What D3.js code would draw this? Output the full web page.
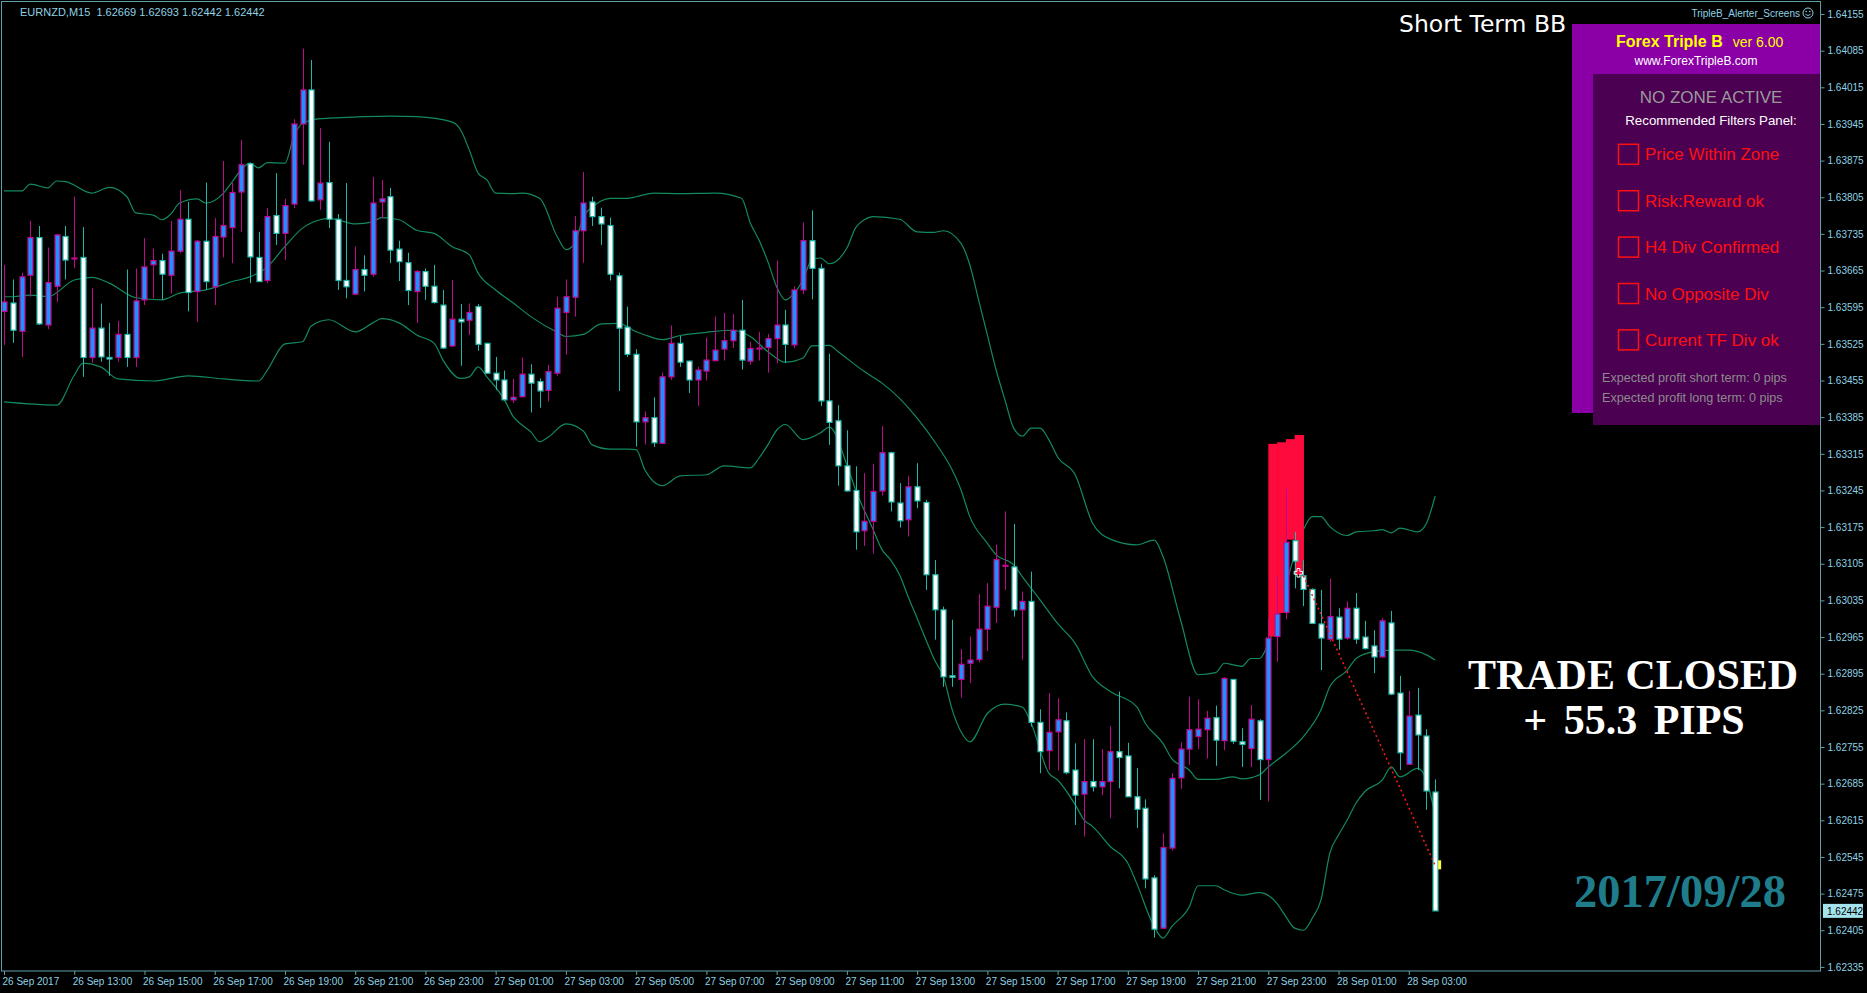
<!DOCTYPE html>
<html><head><meta charset="utf-8">
<script src="https://cdn.jsdelivr.net/npm/d3@7"></script>
<style>
html,body{margin:0;padding:0;background:#000;overflow:hidden}
svg{display:block}
</style></head>
<body>
<svg id="chart" width="1867" height="993"></svg>
<script>
// ---------- DATA (EURNZD M15, one value per bar) ----------
const symbolLabel = "EURNZD,M15";
const opens = [1.63587,1.63603,1.63549,1.63656,1.63728,1.63561,1.63635,1.63730,1.63687,1.63690,
1.63499,1.63555,1.63499,1.63499,1.63543,1.63499,1.63609,1.63676,1.63684,1.63656,
1.63702,1.63763,1.63625,1.63721,1.63634,1.63729,1.63747,1.63815,1.63869,1.63690,
1.63646,1.63770,1.63736,1.63792,1.63945,1.64010,1.63800,1.63833,1.63763,1.63646,
1.63620,1.63667,1.63658,1.63796,1.63806,1.63706,1.63680,1.63625,1.63663,1.63635,
1.63599,1.63521,1.63572,1.63570,1.63596,1.63526,1.63469,1.63456,1.63418,1.63424,
1.63467,1.63453,1.63436,1.63469,1.63585,1.63614,1.63741,1.63796,1.63768,1.63751,
1.63655,1.63557,1.63505,1.63376,1.63384,1.63335,1.63462,1.63526,1.63492,1.63456,
1.63473,1.63493,1.63515,1.63531,1.63551,1.63492,1.63516,1.63518,1.63535,1.63561,
1.63523,1.63628,1.63722,1.63669,1.63416,1.63378,1.63292,1.63245,1.63168,1.63186,
1.63244,1.63317,1.63221,1.63189,1.63252,1.63222,1.63084,1.63017,1.62891,1.62884,
1.62915,1.62922,1.62980,1.63022,1.63100,1.63099,1.63017,1.63033,1.62802,1.62748,
1.62784,1.62805,1.62711,1.62665,1.62689,1.62679,1.62689,1.62746,1.62738,1.62660,
1.62638,1.62505,1.62409,1.62562,1.62696,1.62751,1.62775,1.62788,1.62811,1.62767,
1.62884,1.62765,1.62752,1.62805,1.62731,1.62966,1.63012,1.63149,1.63082,1.63056,
1.62990,1.62961,1.63003,1.62963,1.63020,1.62965,1.62948,1.62927,1.62992,1.62858,
1.62722,1.62816,1.62776,1.62669];
const highs = [1.63676,1.63648,1.63661,1.63760,1.63750,1.63709,1.63734,1.63750,1.63806,1.63748,
1.63631,1.63602,1.63565,1.63569,1.63667,1.63669,1.63727,1.63707,1.63697,1.63760,
1.63819,1.63796,1.63723,1.63833,1.63765,1.63874,1.63833,1.63914,1.63871,1.63739,
1.63784,1.63851,1.63802,1.63954,1.64089,1.64067,1.63937,1.63911,1.63773,1.63832,
1.63711,1.63694,1.63844,1.63838,1.63823,1.63722,1.63699,1.63666,1.63669,1.63676,
1.63628,1.63647,1.63601,1.63602,1.63601,1.63527,1.63500,1.63474,1.63458,1.63499,
1.63486,1.63459,1.63485,1.63615,1.63648,1.63769,1.63853,1.63806,1.63785,1.63766,
1.63661,1.63596,1.63515,1.63396,1.63423,1.63470,1.63560,1.63540,1.63493,1.63481,
1.63537,1.63577,1.63584,1.63582,1.63609,1.63529,1.63548,1.63544,1.63684,1.63590,
1.63635,1.63757,1.63780,1.63678,1.63506,1.63408,1.63360,1.63291,1.63278,1.63296,
1.63368,1.63319,1.63259,1.63273,1.63297,1.63227,1.63112,1.63023,1.62998,1.62942,
1.62966,1.63047,1.63068,1.63142,1.63205,1.63181,1.63052,1.63090,1.62827,1.62858,
1.62848,1.62821,1.62762,1.62770,1.62770,1.62751,1.62795,1.62861,1.62763,1.62715,
1.62655,1.62510,1.62590,1.62705,1.62764,1.62851,1.62846,1.62824,1.62834,1.62888,
1.62885,1.62791,1.62835,1.62808,1.63000,1.63080,1.63249,1.63166,1.63112,1.63058,
1.63055,1.63076,1.63020,1.63033,1.63049,1.62996,1.62978,1.63001,1.63015,1.62891,
1.62862,1.62868,1.62789,1.62693];
const lows = [1.63523,1.63527,1.63500,1.63615,1.63561,1.63553,1.63605,1.63648,1.63670,1.63462,
1.63489,1.63491,1.63464,1.63491,1.63481,1.63481,1.63599,1.63612,1.63609,1.63621,
1.63698,1.63587,1.63567,1.63628,1.63599,1.63690,1.63679,1.63739,1.63641,1.63643,
1.63641,1.63714,1.63685,1.63784,1.63867,1.63797,1.63781,1.63746,1.63628,1.63612,
1.63618,1.63625,1.63653,1.63765,1.63679,1.63645,1.63599,1.63565,1.63609,1.63602,
1.63515,1.63519,1.63483,1.63542,1.63512,1.63468,1.63437,1.63417,1.63412,1.63423,
1.63394,1.63403,1.63415,1.63464,1.63504,1.63577,1.63680,1.63750,1.63714,1.63646,
1.63435,1.63500,1.63329,1.63333,1.63328,1.63334,1.63456,1.63481,1.63431,1.63406,
1.63455,1.63491,1.63493,1.63517,1.63476,1.63485,1.63493,1.63470,1.63488,1.63488,
1.63517,1.63620,1.63610,1.63406,1.63332,1.63254,1.63243,1.63132,1.63139,1.63124,
1.63235,1.63205,1.63174,1.63157,1.63211,1.63055,1.62960,1.62870,1.62870,1.62849,
1.62877,1.62917,1.62938,1.62992,1.63055,1.63004,1.62922,1.62794,1.62705,1.62711,
1.62710,1.62703,1.62606,1.62584,1.62670,1.62663,1.62619,1.62676,1.62660,1.62600,
1.62485,1.62391,1.62408,1.62557,1.62675,1.62721,1.62751,1.62733,1.62719,1.62749,
1.62761,1.62717,1.62717,1.62654,1.62651,1.62918,1.62999,1.63058,1.63024,1.62990,
1.62902,1.62956,1.62941,1.62960,1.62952,1.62941,1.62896,1.62926,1.62854,1.62711,
1.62721,1.62711,1.62635,1.62442];
const closes = [1.63605,1.63551,1.63653,1.63728,1.63563,1.63642,1.63733,1.63685,1.63689,1.63499,
1.63555,1.63500,1.63496,1.63543,1.63499,1.63607,1.63672,1.63684,1.63658,1.63702,
1.63763,1.63623,1.63721,1.63644,1.63730,1.63751,1.63814,1.63867,1.63691,1.63644,
1.63768,1.63736,1.63789,1.63945,1.64010,1.63798,1.63832,1.63763,1.63646,1.63634,
1.63667,1.63656,1.63794,1.63802,1.63704,1.63682,1.63627,1.63663,1.63635,1.63604,
1.63517,1.63572,1.63567,1.63585,1.63524,1.63469,1.63456,1.63418,1.63423,1.63467,
1.63450,1.63435,1.63472,1.63593,1.63615,1.63741,1.63794,1.63768,1.63754,1.63658,
1.63555,1.63505,1.63376,1.63384,1.63336,1.63462,1.63526,1.63490,1.63456,1.63475,
1.63494,1.63513,1.63531,1.63551,1.63494,1.63516,1.63517,1.63535,1.63561,1.63524,
1.63628,1.63722,1.63669,1.63416,1.63375,1.63292,1.63244,1.63166,1.63186,1.63243,
1.63317,1.63223,1.63187,1.63252,1.63225,1.63084,1.63017,1.62889,1.62888,1.62913,
1.62921,1.62980,1.63024,1.63113,1.63102,1.63017,1.63033,1.62802,1.62746,1.62783,
1.62807,1.62706,1.62663,1.62689,1.62679,1.62689,1.62746,1.62735,1.62660,1.62636,
1.62503,1.62407,1.62563,1.62695,1.62751,1.62788,1.62789,1.62810,1.62768,1.62886,
1.62766,1.62760,1.62808,1.62731,1.62963,1.63009,1.63146,1.63110,1.63056,1.62991,
1.62963,1.63004,1.62961,1.63020,1.62961,1.62943,1.62927,1.62996,1.62856,1.62744,
1.62814,1.62778,1.62671,1.62442];

// Bollinger band readings: [bar index, price]
const upperBand = [[0,1.63817],[2,1.63817],[3,1.63830],[5,1.63823],[6,1.63836],[7,1.63835],[10,1.63813],[12,1.63824],[14,1.63806],[15,1.63775],[17,1.63771],[18,1.63762],[19,1.63773],[20,1.63794],[22,1.63802],[23,1.63794],[25,1.63813],[26,1.63835],[27,1.63857],[28,1.63870],[29,1.63861],[30,1.63871],[32,1.63870],[33,1.63921],[34,1.63946],[36,1.63955],[37,1.63956],[41,1.63959],[44,1.63960],[47,1.63959],[51,1.63949],[52,1.63934],[53,1.63895],[54,1.63851],[55,1.63838],[56,1.63813],[58,1.63812],[59,1.63813],[61,1.63803],[63,1.63730],[64,1.63705],[65,1.63717],[66,1.63768],[67,1.63786],[68,1.63798],[69,1.63803],[71,1.63803],[72,1.63806],[74,1.63813],[77,1.63812],[81,1.63813],[84,1.63803],[85,1.63756],[86,1.63723],[87,1.63682],[88,1.63634],[89,1.63609],[90,1.63622],[91,1.63647],[92,1.63685],[93,1.63689],[94,1.63678],[96,1.63708],[97,1.63747],[98,1.63762],[99,1.63768],[102,1.63763],[104,1.63739],[106,1.63738],[107,1.63741],[109,1.63717],[110,1.63676],[111,1.63609],[112,1.63542],[113,1.63475],[114,1.63418],[115,1.63364],[116,1.63349],[117,1.63364],[118,1.63364],[119,1.63342],[120,1.63309],[122,1.63275],[124,1.63182],[126,1.63152],[129,1.63141],[131,1.63150],[132,1.63119],[134,1.62998],[136,1.62893],[138,1.62897],[139,1.62915],[140,1.62912],[141,1.62909],[142,1.62924],[143,1.62924],[144,1.62953],[145,1.62998],[146,1.63064],[147,1.63122],[148,1.63170],[149,1.63195],[150,1.63195],[151,1.63176],[153,1.63159],[154,1.63166],[156,1.63168],[157,1.63170],[158,1.63164],[159,1.63173],[161,1.63166],[162,1.63182],[163,1.63234]];
const middleBand = [[0,1.63615],[1,1.63615],[3,1.63618],[5,1.63615],[8,1.63647],[10,1.63652],[12,1.63641],[15,1.63613],[18,1.63609],[20,1.63622],[23,1.63628],[26,1.63644],[28,1.63653],[30,1.63672],[32,1.63711],[34,1.63746],[36,1.63762],[37,1.63765],[38,1.63762],[40,1.63754],[42,1.63758],[43,1.63766],[45,1.63762],[47,1.63742],[49,1.63736],[51,1.63711],[53,1.63695],[54,1.63660],[56,1.63628],[58,1.63603],[60,1.63577],[63,1.63547],[64,1.63539],[66,1.63543],[68,1.63563],[70,1.63564],[72,1.63548],[73,1.63542],[75,1.63533],[77,1.63541],[80,1.63547],[83,1.63551],[85,1.63539],[87,1.63510],[89,1.63490],[91,1.63498],[92,1.63521],[94,1.63522],[95,1.63510],[98,1.63472],[100,1.63450],[102,1.63421],[104,1.63383],[106,1.63338],[108,1.63284],[109,1.63246],[110,1.63195],[112,1.63144],[113,1.63122],[115,1.63103],[116,1.63080],[118,1.63036],[120,1.62991],[122,1.62953],[124,1.62889],[126,1.62861],[129,1.62832],[130,1.62800],[132,1.62762],[133,1.62733],[135,1.62711],[136,1.62693],[138,1.62693],[140,1.62698],[141,1.62694],[143,1.62702],[144,1.62717],[146,1.62743],[148,1.62775],[150,1.62826],[151,1.62870],[153,1.62902],[154,1.62924],[156,1.62937],[158,1.62940],[160,1.62940],[162,1.62931],[163,1.62921]];
const lowerBand = [[0,1.63414],[6,1.63408],[8,1.63465],[9,1.63488],[11,1.63481],[13,1.63458],[17,1.63454],[21,1.63464],[25,1.63458],[29,1.63454],[30,1.63475],[32,1.63525],[34,1.63529],[35,1.63559],[37,1.63571],[40,1.63548],[42,1.63565],[43,1.63573],[45,1.63565],[47,1.63542],[49,1.63526],[50,1.63494],[52,1.63459],[53,1.63462],[54,1.63481],[55,1.63462],[57,1.63418],[58,1.63386],[59,1.63370],[60,1.63357],[61,1.63338],[62,1.63347],[64,1.63372],[66,1.63358],[67,1.63332],[69,1.63324],[71,1.63324],[72,1.63323],[73,1.63284],[75,1.63254],[77,1.63273],[80,1.63275],[82,1.63292],[85,1.63288],[86,1.63307],[87,1.63332],[88,1.63360],[89,1.63371],[91,1.63342],[93,1.63355],[94,1.63366],[96,1.63294],[97,1.63246],[99,1.63170],[100,1.63132],[101,1.63112],[102,1.63084],[103,1.63041],[104,1.63001],[105,1.62960],[106,1.62921],[107,1.62889],[108,1.62826],[109,1.62784],[110,1.62765],[112,1.62819],[114,1.62837],[116,1.62831],[117,1.62800],[119,1.62705],[120,1.62692],[122,1.62645],[123,1.62616],[124,1.62603],[126,1.62565],[128,1.62533],[129,1.62495],[131,1.62412],[132,1.62390],[133,1.62412],[135,1.62450],[136,1.62490],[138,1.62490],[139,1.62482],[141,1.62472],[143,1.62477],[145,1.62456],[146,1.62431],[147,1.62409],[148,1.62405],[149,1.62428],[150,1.62463],[151,1.62552],[152,1.62587],[153,1.62616],[154,1.62648],[155,1.62670],[157,1.62692],[158,1.62717],[159,1.62698],[161,1.62714],[162,1.62692],[163,1.62625]];

// Supply zone columns (bar index, top, bottom)
const zoneBars = [144,145,146,147];
const zoneTops = [1.63334,1.63337,1.63343,1.63351];
const zoneBottoms = [1.62966,1.63011,1.63151,1.63084];

// Trade line
const tradeBars = [148,163];
const tradePrices = [1.63082,1.62529];

// Axis ticks
const yTicks = [1.64155,1.64085,1.64015,1.63945,1.63875,1.63805,1.63735,1.63665,1.63595,1.63525,1.63455,1.63385,1.63315,1.63245,1.63175,1.63105,1.63035,1.62965,1.62895,1.62825,1.62755,1.62685,1.62615,1.62545,1.62475,1.62405,1.62335];
const xTickBars = [0,8,16,24,32,40,48,56,64,72,80,88,96,104,112,120,128,136,144,152,160];
const xTickLabels = ["26 Sep 2017","26 Sep 13:00","26 Sep 15:00","26 Sep 17:00","26 Sep 19:00","26 Sep 21:00","26 Sep 23:00","27 Sep 01:00","27 Sep 03:00","27 Sep 05:00","27 Sep 07:00","27 Sep 09:00","27 Sep 11:00","27 Sep 13:00","27 Sep 15:00","27 Sep 17:00","27 Sep 19:00","27 Sep 21:00","27 Sep 23:00","28 Sep 01:00","28 Sep 03:00"];

// Panel texts
const filterItems = ["Price Within Zone","Risk:Reward ok","H4 Div Confirmed","No Opposite Div","Current TF Div ok"];
const profitTexts = ["Expected profit short term: 0 pips","Expected profit long term: 0 pips"];

// ---------- DRAWING ----------
const svg = d3.select("#chart");
const AX = "#5e9fa9", TXT = "#8fd2e4";
const BULL_FILL = "#1e90ff", BULL_LINE = "#c0088f";
const BEAR_FILL = "#ffffff", BEAR_LINE = "#1fb8aa";
const BAND = "#138a5c";
const n = opens.length;

const x = d3.scaleLinear().domain([0, n - 1]).range([4, 4 + (n - 1) * 8.78]);
const y = d3.scaleLinear().domain([1.62335, 1.64155]).range([966.9, 14]);

svg.append("rect").attr("width",1867).attr("height",993).attr("fill","#000");

// header
svg.append("text").attr("x",20).attr("y",16).attr("fill",TXT)
  .attr("font-family","Liberation Sans, Arial, sans-serif").attr("font-size",11)
  .text(`${symbolLabel}  ${opens[n-1].toFixed(5)} ${highs[n-1].toFixed(5)} ${lows[n-1].toFixed(5)} ${closes[n-1].toFixed(5)}`)
  .attr("xml:space","preserve").style("white-space","pre");

const plot = svg.append("g");
plot.append("clipPath").attr("id","clip").append("rect").attr("x",1).attr("y",1).attr("width",1819).attr("height",970);
const g = plot.append("g").attr("clip-path","url(#clip)");

// bands
const line = d3.line().x(d => x(d[0])).y(d => y(d[1])).curve(d3.curveMonotoneX);
[upperBand, middleBand, lowerBand].forEach(b => {
  g.append("path").attr("d", line(b)).attr("fill","none").attr("stroke",BAND).attr("stroke-width",1.2);
});

// zone
zoneBars.forEach((b,i) => {
  g.append("rect").attr("x", x(b)).attr("width", x(b+1)-x(b)+0.5)
   .attr("y", y(zoneTops[i])).attr("height", y(zoneBottoms[i]) - y(zoneTops[i]))
   .attr("fill","#ff0a3c");
});

// candles
const idx = d3.range(n);
const bw = 5;
idx.forEach(i => {
  const bull = closes[i] >= opens[i];
  const cx = Math.round(x(i)) + 0.5;
  const lc = bull ? BULL_LINE : BEAR_LINE;
  g.append("line").attr("x1",cx).attr("x2",cx).attr("y1",y(highs[i])).attr("y2",y(lows[i]))
    .attr("stroke",lc).attr("stroke-width",1);
  const top = y(Math.max(opens[i],closes[i])), bot = y(Math.min(opens[i],closes[i]));
  g.append("rect").attr("x",cx - bw/2).attr("y",top).attr("width",bw).attr("height",Math.max(bot-top,1))
    .attr("fill", bull ? BULL_FILL : BEAR_FILL).attr("stroke",lc).attr("stroke-width",1.2);
});

// trade line
g.append("line").attr("x1",x(tradeBars[0])).attr("y1",y(tradePrices[0]))
  .attr("x2",x(tradeBars[1])).attr("y2",y(tradePrices[1]))
  .attr("stroke","#ff1a1a").attr("stroke-width",1.5).attr("stroke-dasharray","2,3");
g.append("path").attr("d", d3.symbol(d3.symbolCross, 40)())
  .attr("transform",`translate(${x(tradeBars[0])-5},${y(tradePrices[0])-3})`)
  .attr("fill","none").attr("stroke","#fff").attr("stroke-width",1);
g.append("rect").attr("x",x(tradeBars[1])+3).attr("y",y(tradePrices[1])-5).attr("width",3).attr("height",9).attr("fill","#ffff40");

// frame
svg.append("rect").attr("x",1.5).attr("y",1.5).attr("width",1819).attr("height",969.5)
  .attr("fill","none").attr("stroke",AX).attr("stroke-width",1);

// y axis
const yAxis = d3.axisRight(y).tickValues(yTicks).tickSize(4).tickFormat(d3.format(".5f"));
const ya = svg.append("g").attr("transform","translate(1820.5,0)").call(yAxis);
ya.select(".domain").remove();
ya.selectAll("line").attr("stroke",AX);
ya.selectAll("text").attr("fill",TXT).attr("font-family","Liberation Sans, Arial, sans-serif").attr("font-size",10).attr("x",7);

// current price label
const cy = y(closes[n-1]);
svg.append("rect").attr("x",1823).attr("y",cy-7).attr("width",40).attr("height",14).attr("fill","#a4e3ee");
svg.append("text").attr("x",1827).attr("y",cy+4).attr("fill","#000")
  .attr("font-family","Liberation Sans, Arial, sans-serif").attr("font-size",10).text(closes[n-1].toFixed(5));

// x axis
const xAxis = d3.axisBottom(x).tickValues(xTickBars).tickSize(4).tickFormat((d,i) => xTickLabels[i]);
const xa = svg.append("g").attr("transform","translate(0,971)").call(xAxis);
xa.select(".domain").remove();
xa.selectAll("line").attr("stroke",AX);
xa.selectAll("text").attr("fill",TXT).attr("font-family","Liberation Sans, Arial, sans-serif").attr("font-size",10)
  .attr("text-anchor","start").attr("dx",-2).attr("y",7);

// "Short Term BB"
svg.append("text").attr("x",1399).attr("y",32).attr("fill","#fff")
  .attr("font-family","DejaVu Sans, sans-serif").attr("font-size",23.5).text("Short Term BB");

// alerter label
svg.append("text").attr("x",1800).attr("y",17).attr("fill",TXT).attr("text-anchor","end")
  .attr("font-family","Liberation Sans, Arial, sans-serif").attr("font-size",10).text("TripleB_Alerter_Screens");
const sm = svg.append("g").attr("transform","translate(1808,13)");
sm.append("circle").attr("r",5).attr("fill","none").attr("stroke",TXT).attr("stroke-width",1);
sm.append("circle").attr("cx",-1.8).attr("cy",-1.5).attr("r",0.8).attr("fill",TXT);
sm.append("circle").attr("cx",1.8).attr("cy",-1.5).attr("r",0.8).attr("fill",TXT);
sm.append("path").attr("d","M-2.5,1.2 Q0,4 2.5,1.2").attr("fill","none").attr("stroke",TXT).attr("stroke-width",0.9);

// panel
svg.append("rect").attr("x",1572).attr("y",24).attr("width",248).attr("height",389).attr("fill","#8a00a6");
svg.append("rect").attr("x",1593).attr("y",74).attr("width",227).attr("height",351).attr("fill","#4b0052");
const pf = "Liberation Sans, Arial, sans-serif";
const t1 = svg.append("text").attr("x",1616).attr("y",47).attr("font-family",pf).attr("fill","#ffff00");
t1.append("tspan").attr("font-size",16).attr("font-weight","bold").text("Forex Triple B");
t1.append("tspan").attr("font-size",14).attr("dx",10).text("ver 6.00");
svg.append("text").attr("x",1696).attr("y",65).attr("text-anchor","middle").attr("font-family",pf)
  .attr("font-size",12).attr("fill","#fff").text("www.ForexTripleB.com");
svg.append("text").attr("x",1711).attr("y",103).attr("text-anchor","middle").attr("font-family",pf)
  .attr("font-size",17).attr("fill","#9a9a9a").text("NO ZONE ACTIVE");
svg.append("text").attr("x",1711).attr("y",125).attr("text-anchor","middle").attr("font-family",pf)
  .attr("font-size",13.3).attr("fill","#fff").text("Recommended Filters Panel:");
filterItems.forEach((t,i) => {
  const cyy = 154.3 + i * 46.4;
  svg.append("rect").attr("x",1618.5).attr("y",cyy-10).attr("width",20).attr("height",20)
    .attr("fill","none").attr("stroke","#ff1010").attr("stroke-width",1.5);
  svg.append("text").attr("x",1645).attr("y",cyy+6).attr("font-family",pf).attr("font-size",17)
    .attr("fill","#ff1010").text(t);
});
profitTexts.forEach((t,i) => {
  svg.append("text").attr("x",1602).attr("y",381.5 + i*20.5).attr("font-family",pf).attr("font-size",12.6)
    .attr("fill","#8c8c8c").text(t);
});

// annotations
const sf = "Liberation Serif, Times New Roman, serif";
svg.append("text").attr("x",1633).attr("y",689).attr("text-anchor","middle").attr("font-family",sf)
  .attr("font-weight","bold").attr("font-size",42).attr("fill","#fff").text("TRADE CLOSED");
svg.append("text").attr("x",1634).attr("y",734).attr("text-anchor","middle").attr("font-family",sf)
  .attr("font-weight","bold").attr("font-size",42).attr("fill","#fff").attr("word-spacing",6).text("+ 55.3 PIPS");
svg.append("text").attr("x",1680).attr("y",907).attr("text-anchor","middle").attr("font-family",sf)
  .attr("font-weight","bold").attr("font-size",46.5).attr("fill","#1f7d8b").text("2017/09/28");
</script>
</body></html>
